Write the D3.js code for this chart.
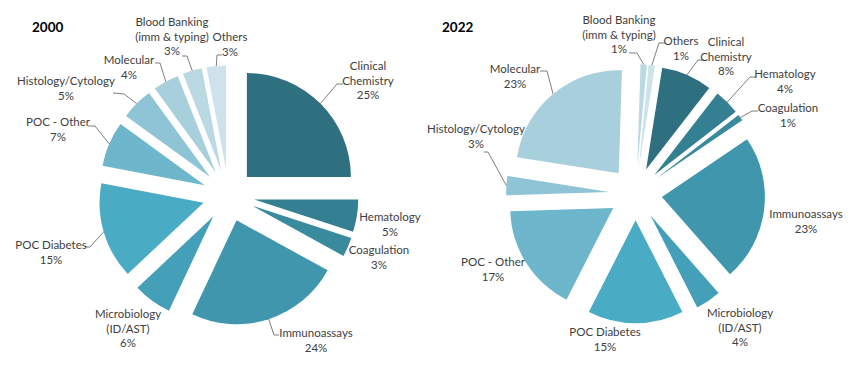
<!DOCTYPE html>
<html><head><meta charset="utf-8">
<script src="https://cdn.jsdelivr.net/npm/d3@7"></script>
<style>body{margin:0;background:#fff}svg{display:block}</style>
</head><body>
<svg id="chart" width="865" height="369"></svg>
<script>
// ---- data ----
const categories = ["Clinical Chemistry","Hematology","Coagulation","Immunoassays","Microbiology (ID/AST)","POC Diabetes","POC - Other","Histology/Cytology","Molecular","Blood Banking (imm & typing)","Others"];
const labelLines = [["Clinical","Chemistry"],["Hematology"],["Coagulation"],["Immunoassays"],["Microbiology","(ID/AST)"],["POC Diabetes"],["POC - Other"],["Histology/Cytology"],["Molecular"],["Blood Banking","(imm & typing)"],["Others"]];
const values2000 = [25,5,3,24,6,15,7,5,4,3,3];
const values2022 = [8,4,1,23,4,15,17,3,23,1,1];
const years = ["2000","2022"];
const colors = ["#2e6f80","#357f92","#3a8a9e","#4096ad","#44a0b8","#4aabc5","#6eb6cb","#8ec4d5","#a7cfdc","#bad9e3","#cde2ea"];

// ---- layout (not data) ----
const layouts = [
  { title:[32,27], cx:228.5, cy:195.5, r:104, explode:26, start:0,
    labels:[
      {x:368,y:66, lead:[[337,84],[343,84]]},
      {x:390,y:217},
      {x:379,y:250},
      {x:316,y:333, lead:[[274,335],[279,335]]},
      {x:128,y:314},
      {x:51,y:245, lead:[[90,247],[85,247]]},
      {x:58,y:122, lead:[[95,126],[88,126]]},
      {x:66,y:81, lead:[[124,94],[113,93]]},
      {x:129,y:60, lead:[[160,63],[155,63]]},
      {x:172,y:22, lead:[[187,56],[182,56]]},
      {x:230,y:37, lead:[[217,55],[222,55]]}
    ]},
  { title:[442,27], cx:635.6, cy:193.7, r:103, explode:26.5, start:9,
    labels:[
      {x:726,y:42, lead:[[698,60],[703,60]]},
      {x:785,y:74, lead:[[750,77],[756,77]]},
      {x:788,y:108, lead:[[752,111],[758,111]]},
      {x:806,y:214},
      {x:740,y:313},
      {x:605,y:332},
      {x:493,y:262},
      {x:476,y:129, lead:[[488,152],[484,152]]},
      {x:515,y:69, lead:[[547,71],[540,71]]},
      {x:619,y:20, lead:[[637,53],[629,53]]},
      {x:681,y:41, lead:[[659,43],[665,43]]}
    ]}
];

const svg = d3.select("#chart");
const allValues = [values2000, values2022];
const lineH = 14.5;

allValues.forEach((vals, ci) => {
  const L = layouts[ci];
  const a0 = L.start * Math.PI/180;
  const pie = d3.pie().sort(null).value(d => d).startAngle(a0).endAngle(a0 + 2*Math.PI);
  const arcs = pie(vals);
  const arc = d3.arc().innerRadius(0).outerRadius(L.r);
  const g = svg.append("g").attr("transform", `translate(${L.cx},${L.cy})`);

  g.selectAll("path").data(arcs).join("path")
    .attr("d", arc)
    .attr("fill", (d,i) => colors[i])
    .attr("transform", d => {
      const m = (d.startAngle + d.endAngle)/2;
      return `translate(${L.explode*Math.sin(m)},${-L.explode*Math.cos(m)})`;
    });

  // leaders
  arcs.forEach((d,i) => {
    const lab = L.labels[i];
    if (!lab.lead) return;
    const m = (d.startAngle + d.endAngle)/2;
    const rr = L.r + L.explode;
    const p0 = [L.cx + rr*Math.sin(m), L.cy - rr*Math.cos(m)];
    const pts = [p0, ...lab.lead];
    svg.append("path")
      .attr("d", d3.line()(pts))
      .attr("fill","none").attr("stroke","#6f6f6f").attr("stroke-width",0.9);
  });

  // labels
  arcs.forEach((d,i) => {
    const lab = L.labels[i];
    const lines = labelLines[i].concat([vals[i] + "%"]);
    const t = svg.append("text")
      .attr("text-anchor","middle")
      .attr("font-family","Lato, 'Open Sans', sans-serif")
      .attr("font-size","11.5px")
      .attr("fill","#404040");
    lines.forEach((ln, k) => {
      t.append("tspan").attr("x", lab.x).attr("y", lab.y + k*lineH).attr("dy","0.35em").text(ln);
    });
  });

  svg.append("text")
    .attr("x", L.title[0]).attr("y", L.title[1]).attr("dy","0.35em")
    .attr("font-family","Lato, 'Open Sans', sans-serif")
    .attr("font-weight","bold").attr("font-size","13.5px")
    .attr("fill","#000").text(years[ci]);
});
</script>
</body></html>
